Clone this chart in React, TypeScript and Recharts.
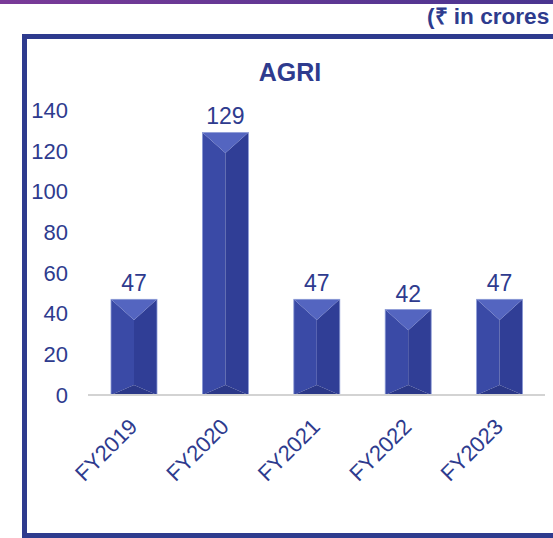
import React from 'react';
import { BarChart, Bar, XAxis, YAxis, LabelList } from 'recharts';

const years = ['FY2019', 'FY2020', 'FY2021', 'FY2022', 'FY2023'];
const agri = [47, 129, 47, 42, 47];
const yTicks = [0, 20, 40, 60, 80, 100, 120, 140];

const data = years.map((year, i) => ({ year, value: agri[i] }));

const NAVY = '#2e3b8e';
const FONT = '"Liberation Sans", Arial, sans-serif';

// bevelled bar like the PowerPoint chart
function BevelBar(props: any) {
  const { x, y, width, height } = props;
  if (!height || height <= 0) return null;
  const top = Math.min(width * 0.45, height / 2);
  const bot = Math.min(width * 0.22, height / 2);
  const cx = x + width / 2;
  const r = x + width;
  const btm = y + height;
  return (
    <g>
      <polygon points={`${x},${y} ${cx},${y + top} ${cx},${btm - bot} ${x},${btm}`} fill='#3a4aa6' />
      <polygon points={`${r},${y} ${cx},${y + top} ${cx},${btm - bot} ${r},${btm}`} fill='#303e96' />
      <polygon points={`${x},${y} ${r},${y} ${cx},${y + top}`} fill='#5465c0' />
      <polygon points={`${x},${btm} ${r},${btm} ${cx},${btm - bot}`} fill='#2b3888' />
      <rect x={x} y={y} width={width} height={height} fill='none' stroke='#8d9bd6' strokeWidth={0.8} />
    </g>
  );
}

function YearTick(props: any) {
  const { x, y, payload } = props;
  const tx = x + 5;
  const ty = y + 25;
  return (
    <text
      x={tx}
      y={ty}
      transform={`rotate(-45, ${tx}, ${ty})`}
      textAnchor='end'
      fill={NAVY}
      fontSize={22}
      fontFamily={FONT}
    >
      {payload.value}
    </text>
  );
}

export default function App() {
  return (
    <div
      style={{
        position: 'absolute',
        top: 0,
        left: 0,
        width: 553,
        height: 538,
        background: '#fff',
        overflow: 'hidden',
        fontFamily: FONT
      }}
    >
      <div
        style={{
          position: 'absolute',
          top: 0,
          left: 0,
          width: 553,
          height: 4,
          background: 'linear-gradient(90deg, #7a3a98, #4a3590)'
        }}
      />
      <div
        style={{
          position: 'absolute',
          left: 427,
          top: 4,
          whiteSpace: 'nowrap',
          fontSize: 22.6,
          fontWeight: 'bold',
          color: NAVY,
          lineHeight: '26px'
        }}
      >
        (₹ in crores
      </div>
      <div
        style={{
          position: 'absolute',
          left: 22,
          top: 34,
          width: 560,
          height: 504,
          border: `5px solid ${NAVY}`,
          boxSizing: 'border-box'
        }}
      />
      <div
        style={{
          position: 'absolute',
          left: 0,
          width: 580,
          top: 57,
          textAlign: 'center',
          fontSize: 25,
          fontWeight: 'bold',
          color: NAVY,
          lineHeight: '30px'
        }}
      >
        AGRI
      </div>
      <div style={{ position: 'absolute', top: 0, left: 0 }}>
        <BarChart
          width={553}
          height={538}
          data={data}
          margin={{ top: 110, right: 8, bottom: 0, left: 0 }}
        >
          <XAxis
            dataKey='year'
            height={143}
            tickLine={false}
            axisLine={{ stroke: '#d3d3d3', strokeWidth: 2 }}
            tick={<YearTick />}
            interval={0}
          />
          <YAxis
            width={88}
            domain={[0, 140]}
            ticks={yTicks}
            tickLine={false}
            axisLine={false}
            tickMargin={14}
            tick={{ fill: NAVY, fontSize: 22, fontFamily: FONT }}
          />
          <Bar dataKey='value' barSize={46} shape={<BevelBar />} isAnimationActive={false}>
            <LabelList
              dataKey='value'
              position='top'
              offset={8}
              fill={NAVY}
              fontSize={23}
              fontFamily={FONT}
            />
          </Bar>
        </BarChart>
      </div>
    </div>
  );
}
